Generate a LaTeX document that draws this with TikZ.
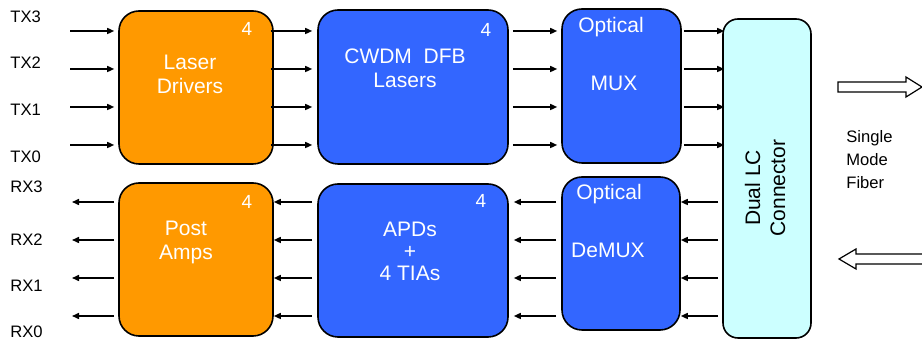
\documentclass[tikz,border=0pt]{standalone}
\usepackage{fontspec}
\setmainfont{Liberation Sans}
\usetikzlibrary{arrows.meta}

\definecolor{drvorange}{HTML}{FF9900}
\definecolor{optblue}{HTML}{3366FF}
\definecolor{lccyan}{HTML}{CCFFFF}

\tikzset{
    blk/.style={draw=black, line width=0.8pt, rounded corners=10pt, inner sep=0pt},
    intxt/.style={text=white, font=\fontsize{10.5}{12}\selectfont, align=center},
    cnt/.style={text=white, font=\fontsize{9.5}{11}\selectfont},
    pin/.style={font=\fontsize{8.3}{10}\selectfont, anchor=west, inner sep=0pt},
    sig/.style={line width=0.75pt, -{Triangle[length=3.5pt,width=3pt]}},
    fiber/.style={draw=black, line width=0.6pt, fill=white}
}

\begin{document}
\begin{tikzpicture}[x=0.5pt,y=-0.5pt]
        \useasboundingbox (0,0) rectangle (922,341);
        % blocks
        \node (ld) [blk, fill=drvorange, minimum width=77pt, minimum height=76.5pt] at (196,87.5) {};
        \node (pa) [blk, fill=drvorange, minimum width=77pt, minimum height=76.5pt] at (196,259.5) {};
        \node (cwdm) [blk, fill=optblue, minimum width=95pt, minimum height=77pt] at (413,87) {};
        \node (apd) [blk, fill=optblue, minimum width=95pt, minimum height=76.5pt] at (413,260.5) {};
        \node (mux) [blk, fill=optblue, minimum width=59.5pt, minimum height=77pt] at (621.5,86) {};
        \node (dmx) [blk, fill=optblue, minimum width=59pt, minimum height=76.5pt] at (621,253.5) {};
        \node (lc) [blk, fill=lccyan, rounded corners=7.5pt, minimum width=44pt, minimum height=159.5pt] at (767,178.5) {};
        % block texts
        \node (ldt) [intxt] at (190,74) {Laser\\Drivers};
        \node (pat) [intxt] at (186,242) {Post\\Amps};
        \node (cwdmt) [intxt] at (405,68) {CWDM~~DFB\\Lasers};
        \node (apdt) [intxt, font=\fontsize{10.5}{11}\selectfont] at (410,251) {APDs\\+\\4 TIAs};
        \node (muxa) [intxt] at (611,27) {Optical};
        \node (muxb) [intxt] at (614,83) {MUX};
        \node (dmxa) [intxt] at (609,194) {Optical};
        \node (dmxb) [intxt] at (608,250) {DeMUX};
        \node (lct) [intxt, text=black, rotate=90, font=\fontsize{10.5}{12.5}\selectfont] at (765,188) {Dual LC\\Connector};
        \node (ldn) [cnt] at (247,29) {4};
        \node (pan) [cnt] at (247,202) {4};
        \node (cwdmn) [cnt] at (486,30) {4};
        \node (apdn) [cnt] at (481,201) {4};
        % pins
        \foreach \n/\y/\ly in {3/31/17,2/69/63,1/107/110,0/145/157}{
            \node (txl\n) [pin] at (10,\ly) {TX\n};
            \coordinate (tx\n) at (70,\y);
            \draw [sig] (tx\n) -- ([xshift=-2pt]ld.west |- tx\n);
            \draw [sig] ([xshift=-1.5pt]ld.east |- tx\n) -- ([xshift=-2.5pt]cwdm.west |- tx\n);
            \draw [sig] ([xshift=2pt]cwdm.east |- tx\n) -- ([xshift=-2pt]mux.west |- tx\n);
            \draw [sig] ([xshift=1pt]mux.east |- tx\n) -- ([xshift=1pt]lc.west |- tx\n);
        }
        \foreach \n/\y/\ly in {3/202/187,2/240/240,1/278/286,0/316/332}{
            \node (rxl\n) [pin] at (10,\ly) {RX\n};
            \coordinate (rx\n) at (72,\y);
            \draw [sig] ([xshift=-2pt]lc.west |- rx\n) -- (dmx.east |- rx\n);
            \draw [sig] ([xshift=-2.5pt]dmx.west |- rx\n) -- ([xshift=2.5pt]apd.east |- rx\n);
            \draw [sig] ([xshift=-2.5pt]apd.west |- rx\n) -- (pa.east |- rx\n);
            \draw [sig] ([xshift=-2pt]pa.west |- rx\n) -- (rx\n);
        }
        % fiber
        \draw [fiber] (838,82) -- (906,82) -- (906,77) -- (922,87) -- (906,97) -- (906,92) -- (838,92) -- cycle;
        \draw [fiber] (922,254) -- (856,254) -- (856,249) -- (839,259) -- (856,269) -- (856,264) -- (922,264);
        \node (fib) [pin, align=left, font=\fontsize{8.3}{11.5}\selectfont] at (846,160) {Single\\Mode\\Fiber};

\end{tikzpicture}
\end{document}
